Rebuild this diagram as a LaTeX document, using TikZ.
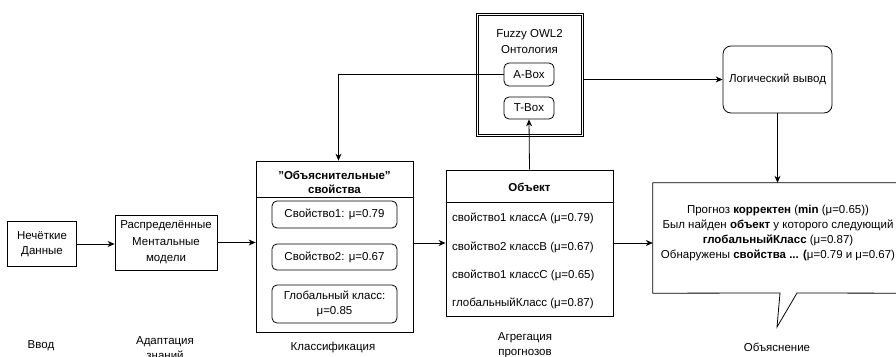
\documentclass[tikz,border=0pt]{standalone}
\usepackage{fontspec}
\setmainfont{Liberation Sans}
\usetikzlibrary{arrows.meta,positioning,calc}
\tikzset{%
  flow/.style={%
    line width=0.8pt,
    -{Stealth[length=7pt,width=6pt]}
  },
  block/.style={draw, line width=0.8pt, align=center, inner sep=0pt},
  prop/.style={draw, rounded corners=5pt, line width=0.8pt, align=center,
    inner sep=0pt, minimum width=125pt},
  stage/.style={align=center}
}

\begin{document}
\begin{tikzpicture}[x=1pt, y=-1pt, font=\fontsize{11.5}{15}\selectfont]
  \clip (0,0) rectangle (896,356);
  \node [block, minimum width=69pt, minimum height=45pt] (raw) at (42,244) {Нечёткие\\Данные};
  \node [block, minimum width=102pt, minimum height=55pt,
    font=\fontsize{11.5}{16.5}\selectfont] (mm) at (166,242.5) {Распределённые\\Ментальные\\модели};
  \node [block, minimum width=157pt, minimum height=171pt] (expl) at (334.5,246.5) {};
  \node [align=center, font=\fontsize{11.5}{14}\selectfont\bfseries] (explh) at (334.5,182) {"Объяснительные"\\свойства};
  \draw [line width=0.8pt] ([yshift=-37pt]expl.north west) -- ([yshift=-37pt]expl.north east);
  \node [prop, minimum height=27pt] (p1) at (334.5,214.5) {Свойство1: μ=0.79};
  \node [prop, minimum height=26pt] (p2) at (334.5,257) {Свойство2: μ=0.67};
  \node [prop, minimum height=38pt] (p3) at (334.5,304) {Глобальный класс:\\μ=0.85};
  \node [block, minimum width=167pt, minimum height=146pt] (obj) at (529.5,243) {};
  \node [font=\fontsize{11.5}{14}\selectfont\bfseries] (objh) at (529.5,187) {Объект};
  \draw [line width=0.8pt] ([yshift=-33pt]obj.north west) -- ([yshift=-33pt]obj.north east);
  \node [anchor=west, inner sep=0pt] (r1) at (452,218) {свойство1 классA (μ=0.79)};
  \node [anchor=west, inner sep=0pt] (r2) at (452,247) {свойство2 классB (μ=0.67)};
  \node [anchor=west, inner sep=0pt] (r3) at (452,275) {свойство1 классC (μ=0.65)};
  \node [anchor=west, inner sep=0pt] (r4) at (452,303) {глобальныйКласс (μ=0.87)};
  \node [block, minimum width=107pt, minimum height=123pt] (onto) at (529.5,74.5) {};
  \draw [line width=0.8pt] ([shift={(2.5pt,-2.5pt)}]onto.north west) rectangle ([shift={(-2.5pt,2.5pt)}]onto.south east);
  \node [align=center, font=\fontsize{11.5}{16.5}\selectfont] (ontot) at (529.5,41.5) {Fuzzy OWL2\\Онтология};
  \node [prop, minimum width=50pt, minimum height=23pt] (abox) at (529,74.5) {A-Box};
  \node [prop, minimum width=50pt, minimum height=22pt] (tbox) at (529,108) {T-Box};
  \node [block, rounded corners=8pt, minimum width=109pt, minimum height=67pt] (infer) at (777.5,79.5) {Логический вывод};
  \node [minimum width=250pt, minimum height=110pt, inner sep=0pt] (why) at (778,238) {};
  \draw [line width=0.8pt] (why.north west) -- (why.north east) -- (why.south east)
    -- (797,293) -- (777,327) -- (780,293) -- (why.south west) -- cycle;
  \node [align=center] (whyt) at (778,233.5) {Прогноз \textbf{корректен} (\textbf{min} (μ=0.65))\\
    Был найден \textbf{объект} у которого следующий\\
    \textbf{глобальныйКласс} (μ=0.87)\\
    Обнаружены \textbf{свойства ... (}μ=0.79 и μ=0.67)};
  \draw [flow] (raw.east) -- (raw.east -| mm.west);
  \draw [flow] (mm.east) -- (mm.east -| expl.west);
  \draw [flow] (expl.east |- obj) -- (obj.west);
  \draw [flow] (obj.east) -- (obj.east -| why.west);
  \draw [flow] (obj.north) -- (tbox.south);
  \draw [flow] (abox.west) -| ([xshift=4pt]expl.north);
  \draw [flow] (onto.east |- infer) -- (infer.west);
  \draw [flow] (infer.south) -- (infer.south |- why.north);
  \node [stage] (s1) at (41,346) {Ввод};
  \node [stage] (s2) at (165,348.5) {Адаптация\\знаний};
  \node [stage] (s3) at (333,348) {Классификация};
  \node [stage] (s4) at (525,345.5) {Агрегация\\прогнозов};
  \node [stage] (s5) at (777,347) {Объяснение};
\end{tikzpicture}
\end{document}
